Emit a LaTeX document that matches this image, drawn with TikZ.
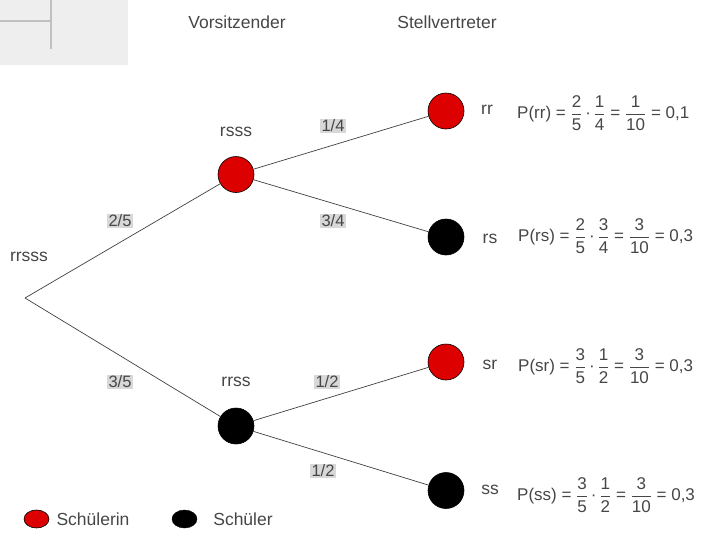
\documentclass[tikz,border=0pt]{standalone}
\usepackage{amsmath}
\usepackage{fontspec}
\setmainfont{Liberation Sans}
\usetikzlibrary{shapes.geometric}
\definecolor{txt}{RGB}{70,70,70}
\definecolor{nodered}{RGB}{220,0,0}
\definecolor{lblbg}{RGB}{216,216,216}
\definecolor{boxbg}{RGB}{238,238,238}
\definecolor{boxline}{RGB}{192,192,192}
\newcommand\fracx[2]{$\dfrac{\text{#1}}{\text{#2}}$}
\begin{document}
\begin{tikzpicture}[x=1pt,y=-1pt, font=\fontsize{17.5}{20}\selectfont, text=txt,
  redball/.style={circle, draw=black, line width=0.6pt, fill=nodered, minimum size=36pt, inner sep=0pt},
  blackball/.style={circle, draw=black, line width=0.6pt, fill=black, minimum size=36pt, inner sep=0pt},
  branch/.style={draw=black!75, line width=0.7pt},
  prob/.style={fill=lblbg, inner sep=1.2pt, font=\fontsize{16.5}{18}\selectfont},
  lbl/.style={inner sep=0pt},
  formula/.style={anchor=west, inner sep=0pt, font=\fontsize{17}{19}\selectfont}]
\useasboundingbox (0,0) rectangle (718,533);
% top-left box
\fill[boxbg] (0,0) rectangle (128,65);
\draw[boxline, line width=2pt] (0,21) -- (51,21);
\draw[boxline, line width=2pt] (51,0) -- (51,49);
% headings
\node[lbl] (h1) at (237,22) {Vorsitzender};
\node[lbl] (h2) at (447,22) {Stellvertreter};
% tree nodes
\coordinate (root) at (25,298);
\node[lbl] (rootlbl) at (29,257) {rrsss};
\node[redball] (rsss) at (236,174.5) {};
\node[blackball] (rrss) at (236,426) {};
\node[lbl] (rssslbl) at (236,132) {rsss};
\node[lbl] (rrsslbl) at (236,382) {rrss};
\node[redball] (rr) at (446,111) {};
\node[blackball] (rs) at (446,237) {};
\node[redball] (sr) at (446,362) {};
\node[blackball] (ss) at (446,490.5) {};
% branches
\draw[branch] (root) -- (rsss);
\draw[branch] (root) -- (rrss);
\draw[branch] (rsss) -- (rr);
\draw[branch] (rsss) -- (rs);
\draw[branch] (rrss) -- (sr);
\draw[branch] (rrss) -- (ss);
% probabilities
\node[prob] (p1) at (120,221) {2/5};
\node[prob] (p2) at (120,382) {3/5};
\node[prob] (p3) at (333,126) {1/4};
\node[prob] (p4) at (333,221) {3/4};
\node[prob] (p5) at (327,382) {1/2};
\node[prob] (p6) at (323,471) {1/2};
% outcome labels
\node[lbl] (l1) at (487,110) {rr};
\node[lbl] (l2) at (490,239) {rs};
\node[lbl] (l3) at (490,365) {sr};
\node[lbl] (l4) at (490,490) {ss};
% formulas
\node[formula] (f1) at (517,113) {P(rr) = \fracx{2}{5}\,·\,\fracx{1}{4} = \fracx{1}{10} = 0,1};
\node[formula] (f2) at (518,236) {P(rs) = \fracx{2}{5}\,·\,\fracx{3}{4} = \fracx{3}{10} = 0,3};
\node[formula] (f3) at (518,366) {P(sr) = \fracx{3}{5}\,·\,\fracx{1}{2} = \fracx{3}{10} = 0,3};
\node[formula] (f4) at (517,495) {P(ss) = \fracx{3}{5}\,·\,\fracx{1}{2} = \fracx{3}{10} = 0,3};
% legend
\node[ellipse, draw=black, line width=0.6pt, fill=nodered, minimum width=25pt, minimum height=18pt, inner sep=0pt] (legr) at (36.5,519) {};
\node[lbl] (legrt) at (93,519) {Schülerin};
\node[ellipse, draw=black, fill=black, minimum width=25pt, minimum height=18pt, inner sep=0pt] (legb) at (184.5,519) {};
\node[lbl] (legbt) at (243,519) {Schüler};
\end{tikzpicture}
\end{document}
